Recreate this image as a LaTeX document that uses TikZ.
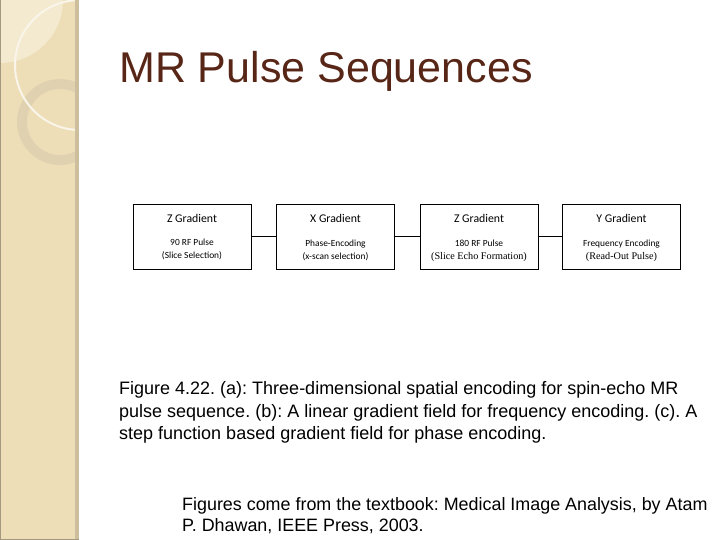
\documentclass[tikz,border=0pt]{standalone}
\usepackage{fontspec}
\setmainfont{Liberation Sans}
\newfontfamily\boxfont{Carlito}
\newfontfamily\seriffont{Liberation Serif}
\frenchspacing
\definecolor{side}{RGB}{238,222,184}
\definecolor{sideedge}{RGB}{205,190,158}
\definecolor{sidelight}{RGB}{244,234,208}
\definecolor{ringgrey}{RGB}{224,209,176}
\definecolor{titlebrown}{RGB}{88,38,22}
\begin{document}
\begin{tikzpicture}[x=1pt,y=-1pt,
  gbox/.style={draw=black,line width=0.7pt,minimum width=118pt,minimum height=65pt,inner sep=0pt},
  link/.style={draw=black,line width=0.7pt},
  subtext/.style={font=\boxfont\fontsize{9.4}{13}\selectfont,align=center,inner sep=0pt}]
\useasboundingbox (0,0) rectangle (720,540);
\fill[white] (0,0) rectangle (720,540);
% sidebar
\begin{scope}
\clip (0,0) rectangle (76,540);
\fill[side] (0,0) rectangle (76,540);
\fill[sidelight] (0,0) circle (63);
\draw[ringgrey,line width=10pt] (60,122) circle (38);
\draw[white!70!side,line width=2pt] (80,65) circle (65);
\end{scope}
\fill[sideedge] (75,0) rectangle (79,540);
\draw[sideedge!80!black,line width=0.8pt] (0.4,0) -- (0.4,539.6) -- (79,539.6);
% title
\node[anchor=base west,inner sep=0pt,text=titlebrown,font=\fontsize{43}{50}\selectfont] (title) at (119,83) {MR Pulse Sequences};
% boxes
\node[gbox] (b1) at (192,236.5) {};
\node[gbox] (b2) at (335.5,236.5) {};
\node[gbox] (b3) at (479,236.5) {};
\node[gbox] (b4) at (621.5,236.5) {};
\foreach \b/\t in {b1/Z Gradient,b2/X Gradient,b3/Z Gradient,b4/Y Gradient}{
  \node[font=\boxfont\fontsize{11.8}{12}\selectfont,inner sep=0pt] (\b t) at ([yshift=18.5pt]\b.center) {\t};
}
\node[subtext] (b1s) at ([yshift=-13pt]b1.center) {90 RF Pulse\\(Slice Selection)};
\node[subtext] (b2s) at ([yshift=-14pt]b2.center) {Phase-Encoding\\(x-scan selection)};
\node[subtext] (b3s) at ([yshift=-14pt]b3.center) {180 RF Pulse\\{\seriffont\fontsize{10.2}{13}\selectfont(Slice Echo Formation)}};
\node[subtext] (b4s) at ([yshift=-14pt]b4.center) {Frequency Encoding\\{\seriffont\fontsize{10.2}{13}\selectfont(Read-Out Pulse)}};
\draw[link] (b1.east) -- (b2.west);
\draw[link] (b2.east) -- (b3.west);
\draw[link] (b3.east) -- (b4.west);
% caption
\node[anchor=base west,inner sep=0pt,align=left,font=\fontsize{18}{22.5}\selectfont] (cap) at (119,439.5) {Figure 4.22. (a): Three-dimensional spatial encoding for spin-echo MR\\pulse sequence. (b): A linear gradient field for frequency encoding. (c). A\\step function based gradient field for phase encoding.};
% footer
\node[anchor=base west,inner sep=0pt,align=left,font=\fontsize{17.9}{21}\selectfont] (foot) at (182,531) {Figures come from the textbook: Medical Image Analysis, by Atam\\P. Dhawan, IEEE Press, 2003.};
\end{tikzpicture}
\end{document}
